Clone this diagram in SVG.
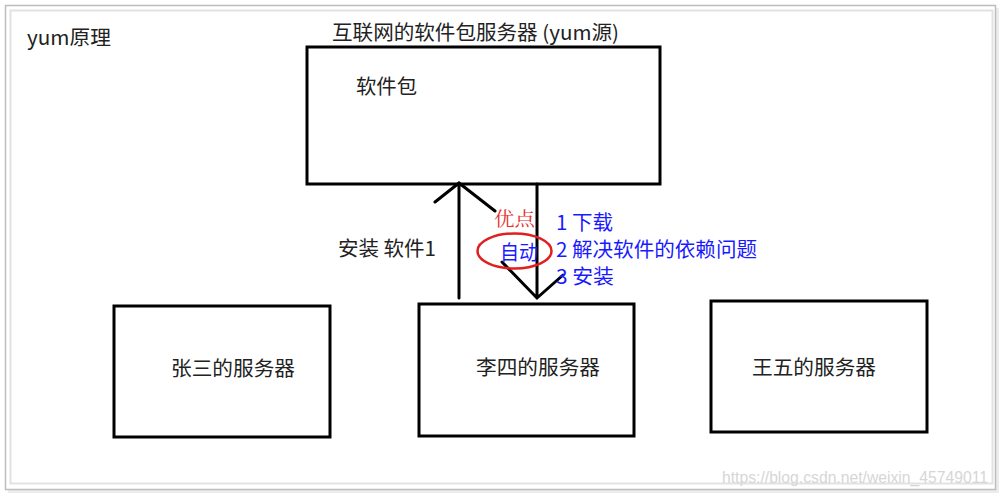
<svg xmlns="http://www.w3.org/2000/svg" width="1003" height="496" viewBox="0 0 1003 496">
<style>
.box{fill:#fff;stroke:#000;stroke-width:3}
.t{font-family:"Noto Sans CJK SC","Liberation Sans",sans-serif;font-size:20px;fill:#222}
.b{font-family:"Noto Sans CJK SC","Liberation Sans",sans-serif;font-size:20px;fill:#1a1aff}
.ln{stroke:#000;stroke-width:3;fill:none;stroke-linecap:round}
</style>
<rect x="0" y="0" width="1003" height="496" fill="#fff"/>
<rect x="8" y="8" width="991" height="485" fill="#ececec"/>
<rect x="5.5" y="5.5" width="990" height="484" fill="#fff" stroke="#bdbdbd" stroke-width="1.5"/>
<rect x="10.5" y="10.5" width="982" height="473" fill="#fff" stroke="#e2e2e2" stroke-width="2"/>
<text class="t" x="27" y="45" textLength="84" lengthAdjust="spacingAndGlyphs">yum原理</text>
<text class="t" x="332" y="40" textLength="287" lengthAdjust="spacingAndGlyphs">互联网的软件包服务器 (yum源)</text>
<g id="repo">
<rect class="box" x="307" y="47" width="353" height="137"/>
<text class="t" x="356" y="94" textLength="61" lengthAdjust="spacingAndGlyphs">软件包</text>
</g>
<g id="zhangsan">
<rect class="box" x="114" y="306" width="216" height="131"/>
<text class="t" x="171" y="376" textLength="124" lengthAdjust="spacingAndGlyphs">张三的服务器</text>
</g>
<g id="lisi">
<rect class="box" x="419" y="304" width="215" height="132"/>
<text class="t" x="476" y="375" textLength="124" lengthAdjust="spacingAndGlyphs">李四的服务器</text>
</g>
<g id="wangwu">
<rect class="box" x="711" y="301" width="216" height="131"/>
<text class="t" x="752" y="375" textLength="124" lengthAdjust="spacingAndGlyphs">王五的服务器</text>
</g>
<g id="connectors">
<path class="ln" d="M459 298 V183 M435 202 L459 183 L495 211"/>
<path class="ln" d="M537 184 V298 M502 262 L537 298 L563 275"/>
</g>
<text class="t" x="338" y="256" textLength="98" lengthAdjust="spacingAndGlyphs">安装 软件1</text>
<ellipse cx="514.5" cy="251" rx="37" ry="17.5" fill="none" stroke="#e02020" stroke-width="2.5"/>
<text x="494" y="226" font-family="'Noto Serif CJK SC','Liberation Serif','Noto Sans CJK SC',serif" font-size="19" fill="#e83030" textLength="41" lengthAdjust="spacingAndGlyphs">优点</text>
<text class="b" x="500" y="260" textLength="38" lengthAdjust="spacingAndGlyphs">自动</text>
<text class="b" x="556" y="230" textLength="57" lengthAdjust="spacingAndGlyphs">1 下载</text>
<text class="b" x="556" y="257" textLength="201" lengthAdjust="spacingAndGlyphs">2 解决软件的依赖问题</text>
<text class="b" x="556" y="284" textLength="58" lengthAdjust="spacingAndGlyphs">3 安装</text>
<text x="722" y="483" font-family="'Liberation Sans',Arial,sans-serif" font-size="16" fill="#d6d6d6" textLength="266" lengthAdjust="spacingAndGlyphs">https://blog.csdn.net/weixin_45749011</text>
</svg>
